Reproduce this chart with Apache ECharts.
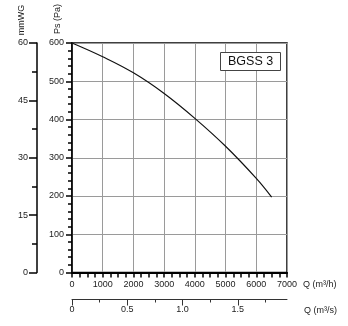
<!DOCTYPE html>
<html><head><meta charset="utf-8">
<script src="https://cdn.jsdelivr.net/npm/echarts@6/dist/echarts.min.js"></script>
<style>html,body{margin:0;padding:0;background:#fff}#c{width:348px;height:326px}</style>
</head><body><div id="c"></div>
<script>
const flowM3h = [0, 1000, 2000, 3000, 4000, 5000, 6000, 6500];
const pressurePa = [600, 564, 522, 468, 403, 330, 246, 197];
const paTicks = [0, 100, 200, 300, 400, 500, 600];
const mmTicks = [0, 15, 30, 45, 60];
const qhTicks = [0, 1000, 2000, 3000, 4000, 5000, 6000, 7000];
const qsMajor = [0, 0.5, 1.0, 1.5];
const qsMinor = [0.25, 0.75, 1.25, 1.75];
const modelName = 'BGSS 3';

const FONT = "'Liberation Sans', Arial, sans-serif";
const TXT = '#222';
const chart = echarts.init(document.getElementById('c'), null, {renderer: 'canvas'});
const qsMax = 7000 / 3600;

chart.setOption({
  animation: false,
  textStyle: {fontFamily: FONT},
  title: {
    text: modelName, left: 220, top: 52,
    padding: [3, 8], borderColor: '#444', borderWidth: 1, backgroundColor: '#fff',
    textStyle: {fontSize: 12.5, fontWeight: 'normal', color: '#111', fontFamily: FONT}
  },
  grid: {left: 72, top: 43, right: 61, bottom: 53.5, show: true, borderColor: '#000', borderWidth: 1.5, backgroundColor: 'transparent'},
  xAxis: [
    {type: 'value', min: 0, max: 7000, interval: 1000, position: 'bottom',
     axisLine: {show: true, onZero: false, lineStyle: {color: '#000', width: 2}},
     axisTick: {show: true, length: 5, lineStyle: {color: '#000', width: 1.5}},
     minorTick: {show: true, splitNumber: 4, length: 5, lineStyle: {color: '#000', width: 1.5}},
     axisLabel: {fontSize: 9, color: TXT, margin: 8, fontFamily: FONT, customValues: qhTicks,
       formatter: v => String(v)},
     splitLine: {show: true, lineStyle: {color: '#9a9a9a', width: 1}}},
    {type: 'value', min: 0, max: qsMax, position: 'bottom', offset: 27, gridIndex: 0,
     axisLine: {show: true, onZero: false, lineStyle: {color: '#333', width: 1}},
     axisTick: {show: true, length: 6, customValues: qsMajor, lineStyle: {color: '#333'}},
     axisLabel: {fontSize: 9, color: TXT, margin: 6, fontFamily: FONT, customValues: qsMajor,
       formatter: v => v === 0 ? '0' : v.toFixed(1)},
     splitLine: {show: false}},
    {type: 'value', min: 0, max: qsMax, position: 'bottom', offset: 27, gridIndex: 0,
     axisLine: {show: false, onZero: false},
     axisTick: {show: true, length: 3, customValues: qsMinor, lineStyle: {color: '#333'}},
     axisLabel: {show: false},
     splitLine: {show: false}}
  ],
  yAxis: [
    {type: 'value', min: 0, max: 600, interval: 100, position: 'left',
     axisLine: {show: true, onZero: false, lineStyle: {color: '#000', width: 1.5}},
     axisTick: {show: true, length: 6, lineStyle: {color: '#000', width: 1.5}},
     minorTick: {show: true, splitNumber: 5, length: 4, lineStyle: {color: '#000', width: 1.5}},
     axisLabel: {fontSize: 9, color: TXT, margin: 8, fontFamily: FONT, customValues: paTicks},
     splitLine: {show: true, lineStyle: {color: '#9a9a9a', width: 1}}},
    {type: 'value', min: 0, max: 60, interval: 15, position: 'left', offset: 35,
     axisLine: {show: true, onZero: false, lineStyle: {color: '#000', width: 1.5}},
     axisTick: {show: true, length: 8, lineStyle: {color: '#000', width: 1.5}},
     minorTick: {show: true, splitNumber: 2, length: 5, lineStyle: {color: '#000', width: 1.5}},
     axisLabel: {fontSize: 9, color: TXT, margin: 9, fontFamily: FONT, customValues: mmTicks},
     splitLine: {show: false}}
  ],
  series: [{
    type: 'line', xAxisIndex: 0, yAxisIndex: 0, smooth: 0.4, symbol: 'none',
    lineStyle: {color: '#111', width: 1.2},
    data: flowM3h.map((q, i) => [q, pressurePa[i]])
  }],
  graphic: [
    {type: 'text', x: 303, y: 285, style: {text: 'Q (m³/h)', fill: TXT, font: '9px ' + FONT, verticalAlign: 'middle'}},
    {type: 'text', x: 304, y: 311, style: {text: 'Q (m³/s)', fill: TXT, font: '9px ' + FONT, verticalAlign: 'middle'}},
    {type: 'text', x: 22, y: 20, rotation: Math.PI / 2, style: {text: 'mmWG', fill: TXT, font: '9px ' + FONT, align: 'center', verticalAlign: 'middle'}},
    {type: 'text', x: 58, y: 19, rotation: Math.PI / 2, style: {text: 'Ps (Pa)', fill: TXT, font: '9px ' + FONT, align: 'center', verticalAlign: 'middle'}}
  ]
});
</script></body></html>
